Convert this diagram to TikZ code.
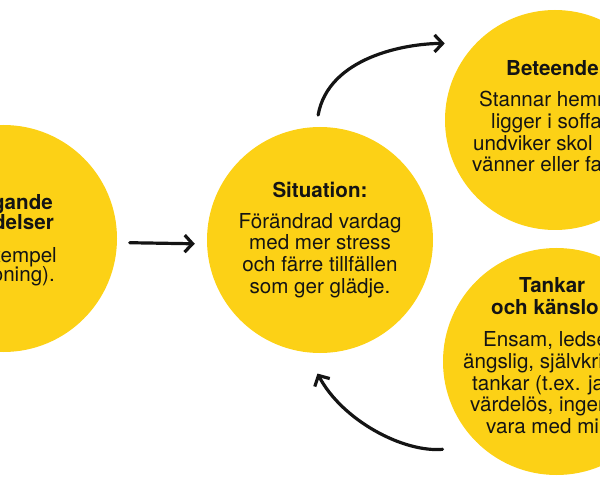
\documentclass[tikz,border=0pt]{standalone}
\usepackage{fontspec}
\setmainfont{TeX Gyre Heros}
\usetikzlibrary{arrows.meta}
\definecolor{sunyellow}{RGB}{252,209,22}
\definecolor{ink}{RGB}{20,20,20}
\newcommand\bodyfont{\fontsize{20.6}{21.7}\selectfont}
\tikzset{
    bubble/.style={circle, fill=sunyellow, inner sep=0, align=center, text=ink, font=\bodyfont},
    txt/.style={anchor=base west, inner sep=0, text=ink, font=\bodyfont},
    hd/.style={txt, font=\bodyfont\bfseries},
    flow/.style={draw=ink, line width=3.2pt, line cap=round, line join=round,
        -{Straight Barb[length=8pt,width=17pt]}}
}

\begin{document}
\begin{tikzpicture}[x=1pt,y=1pt]
    \useasboundingbox (0,0) rectangle (600,480);
    \clip (0,0) rectangle (600,480);

    \node[bubble, minimum size=227pt] (cause) at (3.5,241.5) {};
    \node[bubble, minimum size=226pt] (situation) at (320,240)
        {\textbf{Situation:}\\[9pt]Förändrad vardag\\med mer stress\\och färre tillfällen\\som ger glädje.};
    \node[bubble, minimum size=220pt] (behaviour) at (555,360) {};
    \node[bubble, minimum size=227pt] (thoughts) at (556.5,118.5) {};

    % texts cut off by the edges
    \foreach \x/\y/\t [count=\i] in {53/270/gande, 54/250/delser}
        \node[hd, anchor=base east] (cause-h\i) at (\x,\y) {\t};
    \foreach \x/\y/\t [count=\i] in {57/218/xempel, 55/198/oning).}
        \node[txt, anchor=base east] (cause-t\i) at (\x,\y) {\t};

    \node[hd] (behaviour-h) at (506,404) {Beteende};
    \foreach \x/\y/\t [count=\i] in {479/373/Stannar hemm, 491/351/ligger i soffa,
            473/329/undviker skol, 472/308/vänner eller fa}
        \node[txt] (behaviour-t\i) at (\x,\y) {\t};

    \foreach \x/\y/\t [count=\i] in {519/187/Tankar, 491/166/och känslo}
        \node[hd] (thoughts-h\i) at (\x,\y) {\t};
    \foreach \x/\y/\t [count=\i] in {{483/134/Ensam, ledse}, {463/112/ängslig, självkri},
            472/90/tankar (t.ex. ja, {470/69/värdelös, ingen}, 486/47/vara med mi}
        \node[txt] (thoughts-t\i) at (\x,\y) {\t};

    % arrows
    \draw[flow, shorten <=12.5pt, shorten >=12pt]
        ([yshift=-4pt]cause.east) -- ([yshift=-4pt]situation.west);
    \draw[flow, shorten <=12pt, shorten >=31pt]
        (situation.92) to[out=80, in=180] (behaviour.136);
    \draw[flow, shorten <=38pt, shorten >=24pt]
        (thoughts.228) to[out=185, in=-62] (situation.263);
\end{tikzpicture}
\end{document}
